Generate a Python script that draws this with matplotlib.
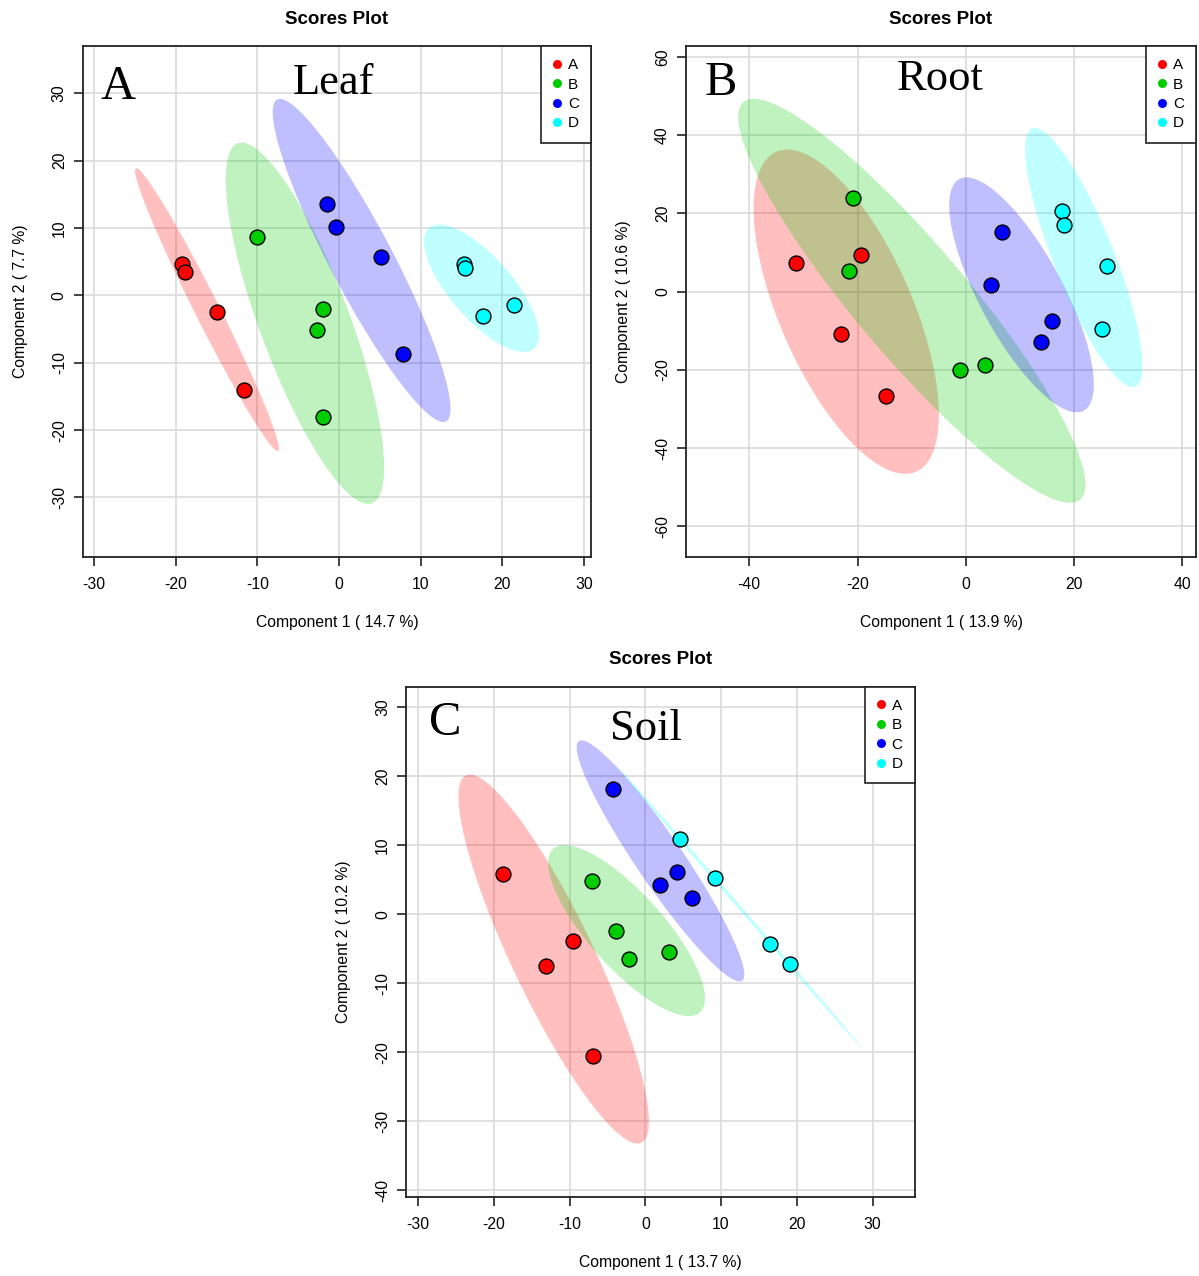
import numpy as np
import matplotlib.pyplot as plt
from matplotlib.patches import Ellipse
from matplotlib.lines import Line2D
from matplotlib.ticker import MultipleLocator

plt.rcParams['font.family'] = ['Liberation Sans', 'DejaVu Sans']
plt.rcParams['axes.unicode_minus'] = False

GROUPS = ['A', 'B', 'C', 'D']
COLORS = ['#FF0000', '#00CD00', '#0000FF', '#00FFFF']
CHI = np.sqrt(5.991)  # 95% level, 2 dof

# scores, 4 samples per group in order A, B, C, D
leaf_pc1 = [-19.2, -18.9, -15.0, -11.6, -10.1, -2.0, -2.7, -1.9,
            -1.5, -0.4, 5.2, 7.8, 15.3, 15.5, 17.6, 21.5]
leaf_pc2 = [4.7, 3.4, -2.5, -14.1, 8.6, -2.0, -5.2, -18.0,
            13.6, 10.1, 5.7, -8.7, 4.6, 4.1, -3.0, -1.5]

root_pc1 = [-31.3, -19.3, -23.0, -14.8, -20.8, -21.6, -1.1, 3.6,
            6.6, 4.7, 15.9, 13.9, 17.7, 18.2, 26.0, 25.2]
root_pc2 = [7.4, 9.4, -10.8, -26.6, 24.0, 5.4, -20.0, -18.8,
            15.3, 1.6, -7.4, -12.8, 20.7, 17.1, 6.6, -9.5]

soil_pc1 = [-18.8, -9.6, -13.1, -6.9, -7.0, -3.9, -2.1, 3.1,
            -4.3, 4.2, 2.0, 6.1, 4.6, 9.2, 16.5, 19.1]
soil_pc2 = [5.9, -3.8, -7.5, -20.5, 4.8, -2.4, -6.4, -5.4,
            18.2, 6.2, 4.2, 2.4, 10.9, 5.2, -4.3, -7.2]

labels = np.repeat(GROUPS, 4)


def conf_ellipse(ax, x, y, color):
    # 95% confidence ellipse from the group covariance
    cov = np.cov(x, y)
    vals, vecs = np.linalg.eigh(cov)
    order = vals.argsort()[::-1]
    vals, vecs = vals[order], vecs[:, order]
    angle = np.degrees(np.arctan2(vecs[1, 0], vecs[0, 0]))
    e = Ellipse((np.mean(x), np.mean(y)), 2 * CHI * np.sqrt(vals[0]),
                2 * CHI * np.sqrt(vals[1]), angle=angle,
                facecolor=color, alpha=0.25, edgecolor='none', zorder=2)
    ax.add_patch(e)


def scores_plot(ax, pc1, pc2, xlim, ylim, step_x, step_y, xlab, ylab, letter, tissue, letter_pos, tissue_pos):
    pc1 = np.array(pc1)
    pc2 = np.array(pc2)
    for g, c in zip(GROUPS, COLORS):
        m = labels == g
        conf_ellipse(ax, pc1[m], pc2[m], c)
    for g, c in zip(GROUPS, COLORS):
        m = labels == g
        ax.scatter(pc1[m], pc2[m], s=115, c=c, edgecolors='black', linewidths=1.0, zorder=3)

    ax.set_xlim(*xlim)
    ax.set_ylim(*ylim)
    ax.xaxis.set_major_locator(MultipleLocator(step_x))
    ax.yaxis.set_major_locator(MultipleLocator(step_y))
    ax.grid(True, color='#DDDDDD', linewidth=1.3)
    ax.set_axisbelow(True)
    for s in ax.spines.values():
        s.set_linewidth(1.3)
        s.set_color('#222222')
    ax.tick_params(axis='both', length=6.5, width=1.2, color='#222222', labelsize=11.3)
    ax.tick_params(axis='x', pad=8)
    ax.tick_params(axis='y', pad=5)
    for t in ax.get_yticklabels():
        t.set_rotation(90)
        t.set_va('center')
    ax.set_xlabel(xlab, fontsize=11.3, labelpad=17)
    ax.set_ylabel(ylab, fontsize=11.3, labelpad=17)
    ax.set_title('Scores Plot', fontsize=13.5, fontweight='bold', pad=16)

    ax.text(letter_pos[0], letter_pos[1], letter, transform=ax.transAxes,
            family='Liberation Serif', fontsize=35, va='baseline', ha='left', zorder=5)
    ax.text(tissue_pos[0], tissue_pos[1], tissue, transform=ax.transAxes,
            family='Liberation Serif', fontsize=32, va='baseline', ha='left', zorder=5)

    handles = [Line2D([], [], marker='o', linestyle='none', markersize=6.5,
                      markerfacecolor=c, markeredgecolor='none') for c in COLORS]
    leg = ax.legend(handles, GROUPS, loc='upper right', borderaxespad=0,
                    fancybox=False, framealpha=1, edgecolor='#222222',
                    fontsize=11, handlelength=0.5, handletextpad=0.45,
                    labelspacing=0.35, borderpad=0.8)
    leg.get_frame().set_linewidth(1.2)
    leg.set_zorder(6)


fig = plt.figure(figsize=(11.99, 12.76), dpi=100)
ax1 = fig.add_axes([0.069, 0.5637, 0.424, 0.4002])
ax2 = fig.add_axes([0.5721, 0.5637, 0.4254, 0.4002])
ax3 = fig.add_axes([0.3386, 0.0622, 0.4245, 0.3997])

scores_plot(ax1, leaf_pc1, leaf_pc2, (-31.4, 30.9), (-38.8, 37.0), 10, 10,
            'Component 1 ( 14.7 %)', 'Component 2 ( 7.7 %)', 'A', 'Leaf',
            (0.035, 0.896), (0.414, 0.906))
scores_plot(ax2, root_pc1, root_pc2, (-51.7, 42.5), (-67.8, 62.8), 20, 20,
            'Component 1 ( 13.9 %)', 'Component 2 ( 10.6 %)', 'B', 'Root',
            (0.037, 0.905), (0.414, 0.914))
scores_plot(ax3, soil_pc1, soil_pc2, (-31.6, 35.6), (-40.9, 33.0), 10, 10,
            'Component 1 ( 13.7 %)', 'Component 2 ( 10.2 %)', 'C', 'Soil',
            (0.046, 0.905), (0.40, 0.895))

fig.savefig('out.png', dpi=100)
